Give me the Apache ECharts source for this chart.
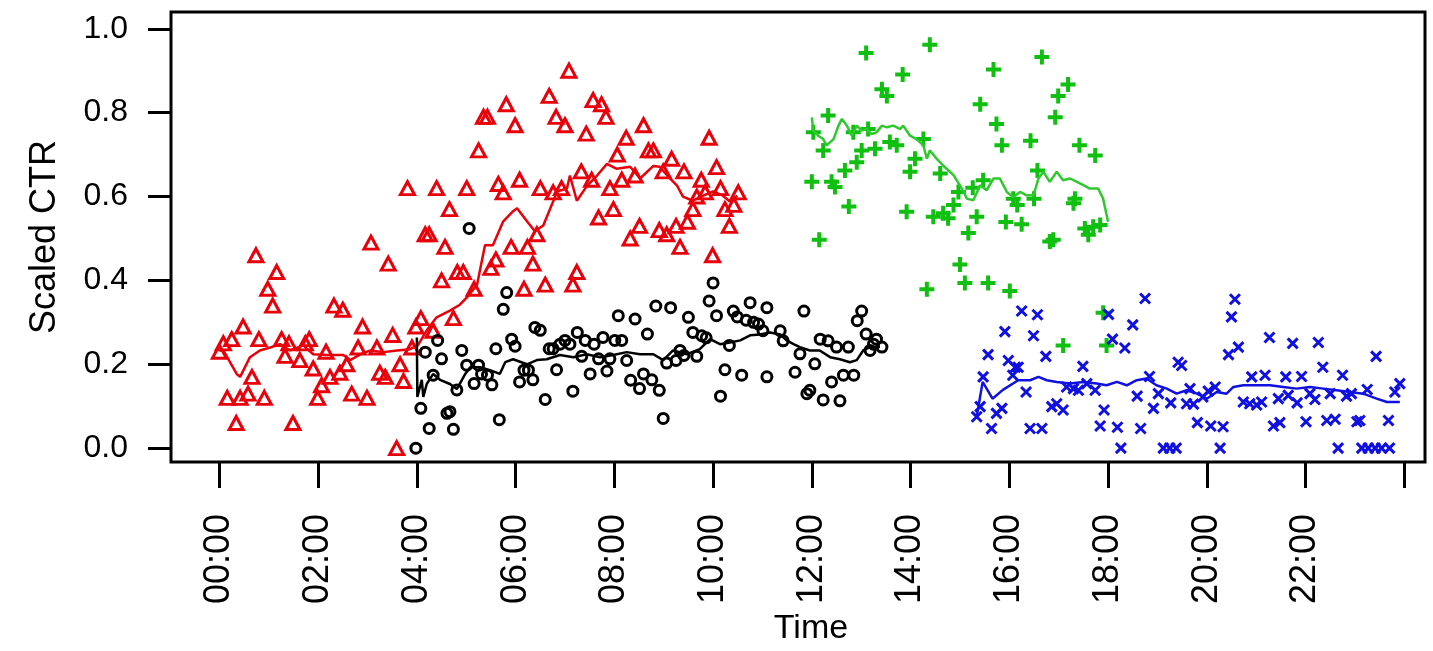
<!DOCTYPE html>
<html>
<head>
<meta charset="utf-8">
<title>Scaled CTR over time</title>
<script src="https://cdn.jsdelivr.net/npm/echarts@6/dist/echarts.min.js"></script>
<style>
  html, body { margin: 0; padding: 0; background: #fff; }
  #chart { width: 1433px; height: 651px; }
</style>
</head>
<body>
<div id="chart"></div>
<script>
// hours since midnight, scaled CTR

// red triangles (00:00 - 10:30)
const redTime = [0.00,0.08,0.25,0.48,0.74,0.80,0.66,0.16,0.42,0.58, 0.34,0.91,0.98,1.08,1.16,1.26,1.33,1.41,1.49,1.63,
  1.74,1.82,1.90,1.99,2.07,2.16,2.24,2.32,2.44,2.50, 2.58,2.68,2.81,2.90,2.99,3.07,3.19,3.25,3.36,3.42,
  3.51,3.59,3.66,3.73,3.81,3.90,3.98,4.08,4.17,4.25, 4.33,4.40,4.50,4.57,4.66,4.74,4.82,4.94,5.01,5.16,
  5.25,5.35,5.43,5.50,5.60,5.65,5.75,5.81,5.91,5.99, 6.08,6.17,6.24,6.35,6.43,6.50,6.60,6.68,6.76,6.82,
  6.93,7.00,7.08,7.16,7.24,7.33,7.43,7.54,7.57,7.68, 7.74,7.83,7.91,7.98,8.06,8.15,8.24,8.32,8.42,8.51,
  8.59,8.69,8.79,8.91,8.99,9.06,9.16,9.25,9.33,9.41, 9.48,9.59,9.67,9.76,9.84,9.92,9.99,10.07,10.15,10.24,
  10.33,10.42,10.51]
const redCTR = [0.23,0.25,0.26,0.29,0.46,0.26,0.17,0.12,0.12,0.13, 0.06,0.12,0.38,0.34,0.42,0.26,0.22,0.25,0.06,0.21,
  0.25,0.26,0.19,0.12,0.15,0.23,0.17,0.34,0.18,0.33, 0.20,0.13,0.24,0.29,0.12,0.49,0.24,0.18,0.17,0.44,
  0.27,0.00,0.20,0.16,0.62,0.24,0.29,0.31,0.51,0.51, 0.28,0.62,0.40,0.48,0.57,0.31,0.42,0.42,0.62,0.38,
  0.71,0.79,0.79,0.43,0.45,0.63,0.61,0.82,0.48,0.77, 0.64,0.38,0.48,0.44,0.51,0.62,0.39,0.84,0.61,0.79,
  0.62,0.77,0.90,0.39,0.42,0.66,0.75,0.64,0.83,0.55, 0.82,0.79,0.62,0.57,0.70,0.64,0.74,0.50,0.65,0.53,
  0.77,0.71,0.71,0.52,0.66,0.51,0.69,0.53,0.48,0.66, 0.54,0.57,0.60,0.64,0.61,0.74,0.46,0.67,0.62,0.57,
  0.53,0.58,0.61]
const redAvgTime = [0.00,0.08,0.35,0.42,0.62,0.82,1.03,1.23,1.43,1.70, 1.90,2.18,2.51,2.65,2.86,3.06,3.32,3.60,3.86,4.02,
  4.20,4.40,4.67,4.87,5.01,5.22,5.38,5.54,5.75,5.95, 6.03,6.23,6.39,6.56,6.76,6.84,7.04,7.10,7.24,7.45,
  7.65,7.85,8.05,8.32,8.52,8.79,8.92,9.07,9.27,9.39, 9.59,9.80,10.00,10.20,10.34,10.49]
const redAvgCTR = [0.233,0.233,0.177,0.170,0.217,0.233,0.240,0.248,0.233,0.245, 0.224,0.222,0.222,0.210,0.224,0.233,0.229,0.233,0.236,0.245,
  0.281,0.312,0.328,0.342,0.359,0.390,0.484,0.484,0.541,0.565, 0.572,0.541,0.517,0.531,0.588,0.612,0.619,0.650,0.590,0.626,
  0.650,0.678,0.666,0.671,0.643,0.673,0.671,0.650,0.626,0.600, 0.590,0.602,0.612,0.602,0.588,0.602]

// black circles (04:00 - 13:30)
const blackTime = [3.98,4.08,4.17,4.25,4.33,4.42,4.50,4.61,4.67,4.74, 4.81,4.91,5.01,5.06,5.16,5.25,5.31,5.43,5.52,5.60,
  5.67,5.75,5.82,5.92,5.99,6.08,6.17,6.26,6.35,6.39, 6.50,6.60,6.68,6.76,6.83,6.90,7.00,7.10,7.16,7.25,
  7.34,7.41,7.51,7.59,7.68,7.77,7.85,7.91,8.01,8.08, 8.15,8.25,8.33,8.42,8.51,8.59,8.67,8.76,8.84,8.91,
  8.99,9.06,9.14,9.25,9.33,9.41,9.50,9.59,9.67,9.77, 9.86,9.92,10.00,10.07,10.15,10.24,10.33,10.41,10.49,10.58,
  10.67,10.75,10.82,10.92,11.01,11.09,11.09,11.36,11.42,11.66, 11.76,11.84,11.90,11.96,12.06,12.17,12.23,12.33,12.40,12.50,
  12.57,12.64,12.74,12.85,12.92,13.01,13.10,13.18,13.25,13.31, 13.42]
const blackCTR = [0.000,0.095,0.229,0.047,0.174,0.257,0.213,0.083,0.087,0.045, 0.139,0.233,0.198,0.524,0.154,0.198,0.177,0.174,0.151,0.237,
  0.068,0.331,0.371,0.260,0.243,0.158,0.186,0.186,0.163,0.288, 0.281,0.116,0.237,0.237,0.187,0.248,0.257,0.248,0.136,0.276,
  0.219,0.257,0.177,0.248,0.213,0.264,0.184,0.213,0.257,0.316, 0.257,0.209,0.162,0.308,0.142,0.177,0.272,0.163,0.339,0.138,
  0.071,0.203,0.335,0.209,0.233,0.221,0.312,0.276,0.219,0.268, 0.263,0.351,0.394,0.316,0.124,0.187,0.245,0.327,0.313,0.174,
  0.305,0.347,0.300,0.296,0.280,0.170,0.335,0.280,0.256,0.181, 0.225,0.327,0.130,0.138,0.201,0.260,0.115,0.256,0.158,0.241,
  0.113,0.174,0.241,0.174,0.304,0.327,0.272,0.233,0.248,0.260, 0.241]
const blackAvgTime = [4.00,4.01,4.10,4.13,4.20,4.33,4.47,4.67,4.81,4.98, 5.08,5.28,5.48,5.68,5.79,5.95,6.23,6.43,6.63,6.90,
  7.17,7.44,7.71,7.98,8.25,8.52,8.79,8.99,9.19,9.47, 9.73,9.94,10.14,10.34,10.55,10.75,10.95,11.15,11.36,11.49,
  11.63,11.76,11.96,12.16,12.37,12.57,12.77,12.91,13.04,13.18, 13.38]
const blackAvgCTR = [0.264,0.122,0.163,0.122,0.153,0.177,0.163,0.153,0.141,0.177, 0.193,0.193,0.186,0.177,0.205,0.212,0.200,0.210,0.212,0.222,
  0.217,0.224,0.217,0.222,0.229,0.224,0.224,0.210,0.233,0.224, 0.236,0.260,0.248,0.252,0.257,0.269,0.271,0.276,0.271,0.257,
  0.248,0.241,0.233,0.233,0.217,0.212,0.205,0.210,0.233,0.241, 0.241]

// green plus (12:00 - 18:00)
const greenTime = [13.10,14.39,13.84,13.42,13.52,12.33,12.03,12.23,12.84,13.14, 13.01,13.28,13.58,13.72,12.91,12.67,12.00,12.40,12.47,12.75,
  12.15,14.26,14.09,13.99,13.92,14.60,14.46,14.66,14.76,14.87, 14.97,15.17,15.26,15.34,15.47,15.41,15.68,15.74,15.85,15.93,
  16.08,16.16,16.25,16.43,16.50,16.66,16.57,16.82,16.89,16.93, 16.99,17.19,17.30,17.33,17.42,17.74,17.53,17.60,17.70,17.84,
  15.00,14.33,15.10,15.57,16.01,17.09,17.90,17.97]
const greenCTR = [0.942,0.962,0.891,0.856,0.840,0.793,0.753,0.710,0.753,0.761, 0.710,0.714,0.730,0.722,0.682,0.662,0.635,0.635,0.623,0.576,
  0.497,0.737,0.690,0.659,0.564,0.655,0.552,0.560,0.548,0.580, 0.611,0.513,0.621,0.552,0.639,0.820,0.903,0.773,0.722,0.539,
  0.595,0.580,0.534,0.733,0.595,0.933,0.662,0.493,0.497,0.789, 0.840,0.867,0.584,0.595,0.722,0.698,0.524,0.509,0.528,0.532,
  0.438,0.379,0.394,0.394,0.375,0.245,0.323,0.245]
const greenAvgTime = [12.00,12.03,12.13,12.23,12.30,12.44,12.54,12.61,12.71,12.81, 12.91,13.01,13.11,13.21,13.31,13.42,13.52,13.65,13.79,13.85,
  13.99,14.12,14.26,14.33,14.39,14.53,14.66,14.87,15.04,15.14, 15.27,15.41,15.54,15.68,15.81,15.95,16.08,16.22,16.35,16.49,
  16.59,16.69,16.82,16.96,17.09,17.23,17.37,17.50,17.63,17.80, 17.90,18.00]
const greenAvgCTR = [0.789,0.757,0.745,0.737,0.722,0.737,0.769,0.785,0.769,0.745, 0.769,0.757,0.761,0.749,0.753,0.769,0.765,0.769,0.761,0.769,
  0.745,0.737,0.722,0.690,0.710,0.690,0.674,0.651,0.619,0.595, 0.591,0.627,0.615,0.643,0.643,0.611,0.599,0.611,0.603,0.603,
  0.643,0.659,0.635,0.659,0.639,0.643,0.635,0.627,0.619,0.619, 0.595,0.540]

// blue crosses (15:20 - 24:00)
const blueTime = [15.34,15.41,15.47,15.57,15.64,15.74,15.85,15.91,15.98,16.07, 16.12,16.18,16.25,16.34,16.42,16.49,16.57,16.66,16.74,16.86,
  16.96,17.09,17.16,17.30,17.40,17.49,17.57,17.74,17.84,17.92, 18.01,18.09,18.19,18.26,18.34,18.50,18.59,18.66,18.75,18.84,
  18.92,19.02,19.12,19.25,19.38,19.27,19.42,19.49,19.59,19.73, 19.66,19.81,20.08,20.33,19.92,20.03,20.17,20.27,20.44,20.64,
  20.50,20.57,20.74,20.87,21.01,21.11,20.91,21.18,21.27,21.35, 21.48,21.45,21.60,21.65,21.74,21.83,21.92,22.01,22.09,22.19,
  22.26,22.35,22.43,22.60,22.50,22.66,22.75,22.83,22.93,23.04, 23.10,23.14,23.27,23.41,23.54,23.70,23.25,23.43,23.68,23.81,
  23.91]
const blueCTR = [0.075,0.099,0.170,0.223,0.047,0.083,0.095,0.278,0.209,0.174, 0.193,0.193,0.327,0.134,0.047,0.268,0.318,0.047,0.219,0.099,
  0.106,0.091,0.146,0.142,0.138,0.195,0.154,0.138,0.053,0.091, 0.319,0.260,0.050,0.000,0.239,0.294,0.124,0.047,0.357,0.171,
  0.095,0.130,0.000,0.000,0.000,0.108,0.205,0.197,0.106,0.105, 0.142,0.061,0.053,0.051,0.122,0.136,0.146,0.000,0.223,0.241,
  0.313,0.355,0.110,0.106,0.103,0.110,0.170,0.174,0.264,0.053, 0.061,0.118,0.170,0.126,0.250,0.108,0.171,0.063,0.130,0.116,
  0.252,0.193,0.066,0.069,0.130,0.000,0.174,0.124,0.130,0.063, 0.066,0.000,0.000,0.000,0.000,0.000,0.140,0.219,0.066,0.134,
  0.154]
const blueAvgTime = [15.34,15.46,15.66,15.87,16.18,16.42,16.59,16.76,16.96,17.23, 17.50,17.77,17.97,18.18,18.38,18.58,18.78,18.98,19.19,19.39,
  19.59,19.80,20.00,20.20,20.40,20.54,20.74,21.01,21.28,21.55, 21.82,22.09,22.36,22.63,22.90,23.17,23.44,23.65,23.91]
const blueAvgCTR = [0.075,0.158,0.118,0.139,0.162,0.162,0.170,0.162,0.158,0.154, 0.158,0.154,0.150,0.158,0.150,0.162,0.166,0.150,0.142,0.130,
  0.138,0.130,0.118,0.134,0.130,0.146,0.150,0.150,0.150,0.146, 0.142,0.146,0.142,0.138,0.134,0.130,0.118,0.110,0.110]

// axis ticks
const hourTicks = [0, 2, 4, 6, 8, 10, 12, 14, 16, 18, 20, 22, 24]
const hourLabels = [0, 2, 4, 6, 8, 10, 12, 14, 16, 18, 20, 22]
const ctrTicks = [0, 0.2, 0.4, 0.6, 0.8, 1.0]

const zip = (xs, ys) => xs.map((x, i) => [x, ys[i]])
const hhmm = (h) => (h < 10 ? '0' : '') + h + ':00'

const plusPath = 'path://M0,5L10,5M5,0L5,10'
const crossPath = 'path://M0,0L10,10M10,0L0,10'
const font = 'Liberation Sans, Arial, sans-serif'

function points(data, symbol, size, color, width) {
  return {
    type: 'scatter',
    data: data,
    symbol: symbol,
    symbolSize: size,
    itemStyle: { color: 'rgba(0,0,0,0)', borderColor: color, borderWidth: width, opacity: 1 },
    emphasis: { disabled: true },
    silent: true,
  }
}

function avgLine(data, color) {
  return {
    type: 'line',
    data: data,
    showSymbol: false,
    lineStyle: { color: color, width: 2.5 },
    silent: true,
  }
}

const options = {
  animation: false,
  backgroundColor: '#fff',
  grid: {
    left: 171,
    right: 8,
    top: 12,
    bottom: 185,
    show: true,
    borderColor: '#000',
    borderWidth: 3,
  },
  xAxis: {
    type: 'value',
    min: -0.98,
    max: 24.42,
    name: 'Time',
    nameLocation: 'middle',
    nameGap: 148,
    nameTextStyle: { fontFamily: font, fontSize: 34, color: '#000', padding: [0, 0, 0, 26] },
    axisLine: { show: false, onZero: false },
    splitLine: { show: false },
    axisTick: {
      show: true,
      length: 26,
      customValues: hourTicks,
      lineStyle: { color: '#000', width: 3 },
    },
    axisLabel: {
      customValues: hourLabels,
      rotate: 90,
      margin: 52,
      fontFamily: font,
      fontSize: 36,
      color: '#000',
      formatter: hhmm,
    },
  },
  yAxis: {
    type: 'value',
    min: -0.033,
    max: 1.04,
    name: 'Scaled CTR',
    nameLocation: 'middle',
    nameRotate: 90,
    nameGap: 108,
    nameTextStyle: { fontFamily: font, fontSize: 36, color: '#000' },
    axisLine: { show: false, onZero: false },
    splitLine: { show: false },
    axisTick: {
      show: true,
      length: 23,
      customValues: ctrTicks,
      lineStyle: { color: '#000', width: 3 },
    },
    axisLabel: {
      customValues: ctrTicks,
      margin: 43,
      fontFamily: font,
      fontSize: 32,
      color: '#000',
      formatter: (v) => v.toFixed(1),
    },
  },
  series: [
    points(zip(redTime, redCTR), 'triangle', [14, 13], '#e8000b', 3),
    avgLine(zip(redAvgTime, redAvgCTR), '#e8000b'),
    points(zip(blackTime, blackCTR), 'circle', 10, '#000', 3),
    avgLine(zip(blackAvgTime, blackAvgCTR), '#000'),
    points(zip(greenTime, greenCTR), plusPath, 15, '#10c010', 4),
    avgLine(zip(greenAvgTime, greenAvgCTR), '#30c830'),
    points(zip(blueTime, blueCTR), crossPath, 10, '#1010e0', 3),
    avgLine(zip(blueAvgTime, blueAvgCTR), '#1010e0'),
  ],
}

const thisChart = echarts.init(document.getElementById('chart'))
thisChart.setOption(options)

window.addEventListener('resize', function () {
  thisChart.resize()
})
</script>
</body>
</html>
